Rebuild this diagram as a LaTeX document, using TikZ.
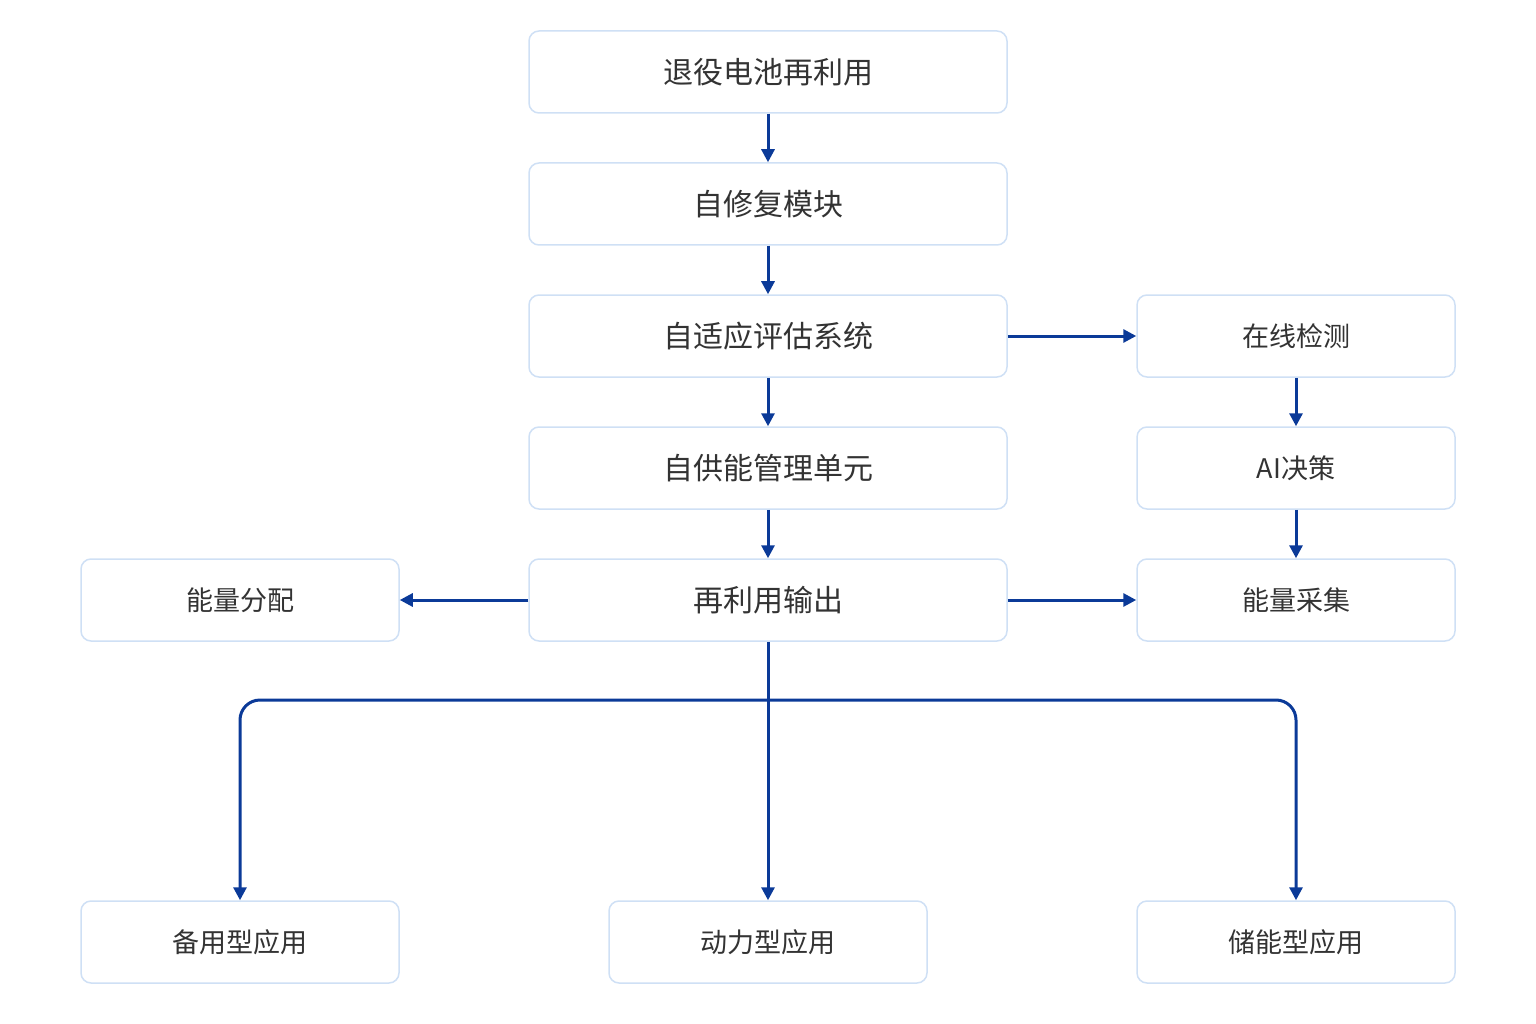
\documentclass[tikz,border=0pt]{standalone}
\usepackage{fontspec}
\newfontfamily\cjk{Noto Sans CJK SC}
\usetikzlibrary{arrows.meta}
\definecolor{bd}{HTML}{CFE0F5}
\definecolor{ar}{HTML}{0B3A98}
\definecolor{tx}{HTML}{333333}
\begin{document}
\begin{tikzpicture}[x=1pt,y=-1pt,
 box/.style={draw=bd,line width=1.5pt,rounded corners=10pt,fill=white,minimum height=82pt,text=tx,font=\cjk\fontsize{30}{34}\selectfont,inner sep=0pt},
 wide/.style={box,minimum width=478pt},
 narrow/.style={box,minimum width=318pt,font=\cjk\fontsize{27}{32}\selectfont},
 arr/.style={draw=ar,line width=3pt,-{Triangle[length=13pt,width=13pt]}}]
\useasboundingbox (0,0) rectangle (1536,1024);
\node[wide] (a) at (768,72) {退役电池再利用};
\node[wide] (b) at (768,204) {自修复模块};
\node[wide] (c) at (768,336) {自适应评估系统};
\node[wide] (d) at (768,468) {自供能管理单元};
\node[wide] (e) at (768,600) {再利用输出};
\node[narrow] (r1) at (1296,336) {在线检测};
\node[narrow] (r2) at (1296,468) {AI决策};
\node[narrow] (r3) at (1296,600) {能量采集};
\node[narrow] (l) at (240,600) {能量分配};
\node[narrow] (b1) at (240,942) {备用型应用};
\node[narrow] (b2) at (768,942) {动力型应用};
\node[narrow] (b3) at (1296,942) {储能型应用};
\draw[arr] (a) -- (b);
\draw[arr] (b) -- (c);
\draw[arr] (c) -- (d);
\draw[arr] (d) -- (e);
\draw[arr] (c) -- (r1);
\draw[arr] (r1) -- (r2);
\draw[arr] (r2) -- (r3);
\draw[arr] (e) -- (r3);
\draw[arr] (e) -- (l);
\coordinate (j) at (768,700);
\draw[arr] (e) -- (b2);
\draw[arr,rounded corners=20pt] (j) -| (b1.north);
\draw[arr,rounded corners=20pt] (j) -| (b3.north);
\end{tikzpicture}
\end{document}
